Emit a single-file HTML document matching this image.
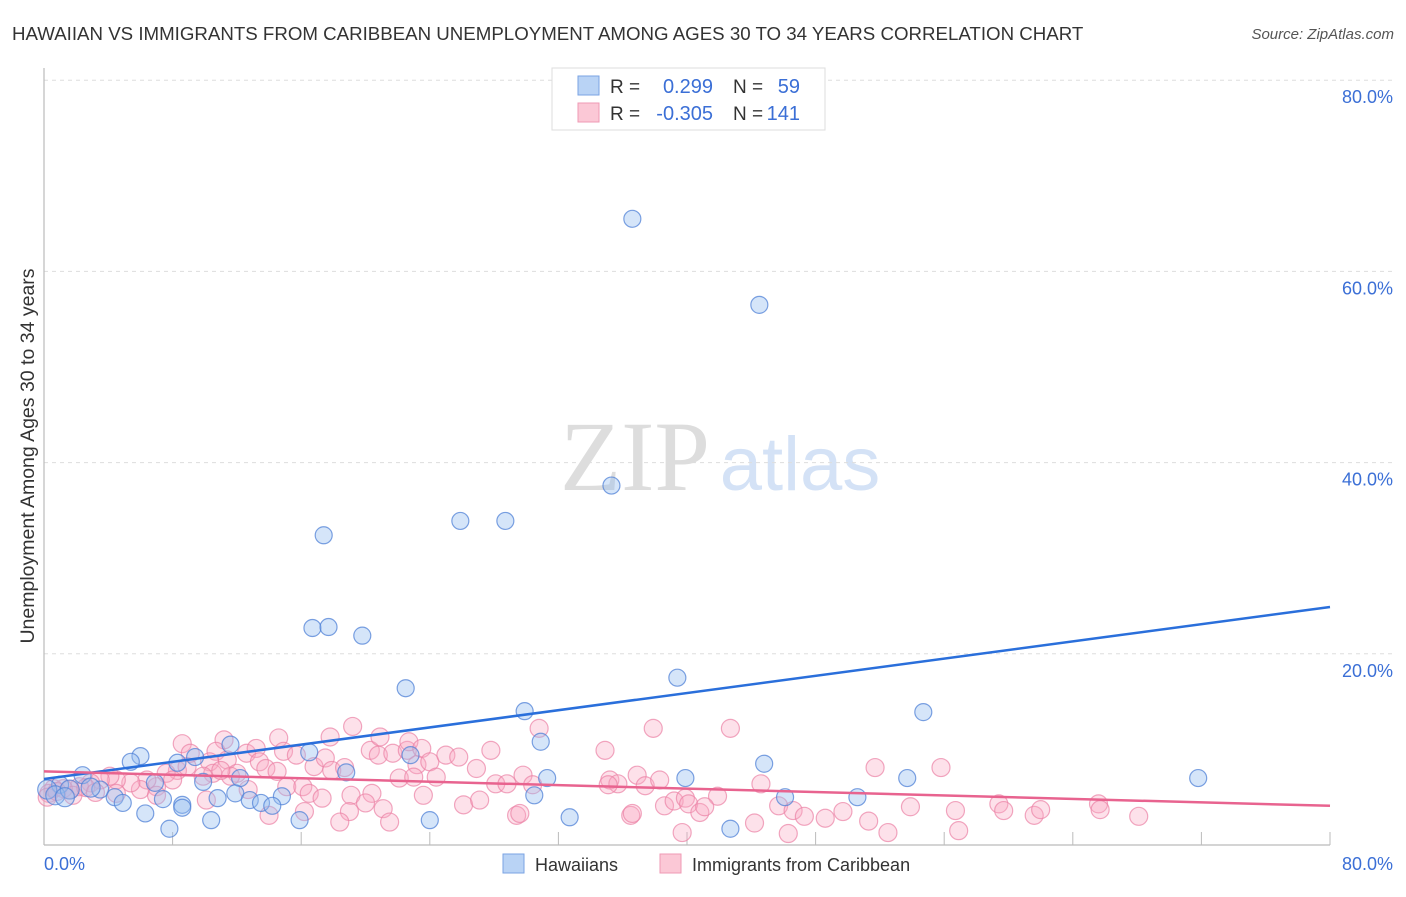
<!DOCTYPE html>
<html><head><meta charset="utf-8"><style>
body{margin:0;background:#fff;font-family:"Liberation Sans",sans-serif;}
svg text{font-family:"Liberation Sans",sans-serif;}
</style></head><body>
<svg id="chart" width="1406" height="892" xmlns="http://www.w3.org/2000/svg">
<text x="12" y="40" font-size="18.7" fill="#333">HAWAIIAN VS IMMIGRANTS FROM CARIBBEAN UNEMPLOYMENT AMONG AGES 30 TO 34 YEARS CORRELATION CHART</text>
<text x="1394" y="39" font-size="15" fill="#555" font-style="italic" text-anchor="end">Source: ZipAtlas.com</text>
<text transform="translate(34,456) rotate(-90)" font-size="19.5" fill="#333" text-anchor="middle">Unemployment Among Ages 30 to 34 years</text>
<g>
<text x="635" y="490" font-size="100" fill="#ddd" style="font-family:'Liberation Serif',serif" text-anchor="middle">ZIP</text>
<text x="800" y="490" font-size="76" fill="#d4e2f6" text-anchor="middle">atlas</text>
</g>
<g id="grid"></g><g id="ticks"></g>
<line x1="44" y1="68" x2="44" y2="845" stroke="#bbb" stroke-width="1.2"/>
<line x1="44" y1="845" x2="1330" y2="845" stroke="#bbb" stroke-width="1.2"/>
<g id="pts"></g><g id="lines"></g>
<text x="44" y="870" font-size="18" fill="#3b6fd6">0.0%</text>
<text x="1393" y="870" font-size="18" fill="#3b6fd6" text-anchor="end">80.0%</text>
<g>
<rect x="552" y="68" width="273" height="62" fill="#fff" stroke="#ddd"/>
<rect x="578" y="76" width="21" height="19" fill="#b9d3f5" stroke="#7aa3e3"/>
<rect x="578" y="103" width="21" height="19" fill="#fbc8d6" stroke="#ef9ab4"/>
<text x="610" y="93" font-size="19" fill="#333">R =</text><text x="713" y="93" font-size="20" fill="#3b6fd6" text-anchor="end">0.299</text>
<text x="733" y="93" font-size="19" fill="#333">N =</text><text x="800" y="93" font-size="20" fill="#3b6fd6" text-anchor="end">59</text>
<text x="610" y="120" font-size="19" fill="#333">R =</text><text x="713" y="120" font-size="20" fill="#3b6fd6" text-anchor="end">-0.305</text>
<text x="733" y="120" font-size="19" fill="#333">N =</text><text x="800" y="120" font-size="20" fill="#3b6fd6" text-anchor="end">141</text>
</g>
<g>
<rect x="503" y="854" width="21" height="19" fill="#b9d3f5" stroke="#7aa3e3"/>
<text x="535" y="871" font-size="18" fill="#333">Hawaiians</text>
<rect x="660" y="854" width="21" height="19" fill="#fbc8d6" stroke="#ef9ab4"/>
<text x="692" y="871" font-size="18" fill="#333">Immigrants from Caribbean</text>
</g>
</svg>
<script>
const yTicks=[20,40,60,80];
const yTickLabels=["20.0%","40.0%","60.0%","80.0%"];
const xTicks=[8,16,24,32,40,48,56,64,72,80];
const hawX=[36.6,44.5,35.3,25.9,28.7,17.4,16.7,17.7,19.8,22.5,39.4,29.9,54.7,30.9,11.6,9.4,6.0,5.4,8.3,16.5,22.8,44.8,18.8,2.4,12.2,9.9,31.3,39.9,53.7,71.8,1.0,6.9,3.5,4.4,4.9,7.4,10.8,11.9,12.8,14.8,13.5,14.2,8.6,8.6,30.5,46.1,50.6,6.3,10.4,15.9,7.8,24.0,32.7,42.7,0.2,0.7,1.6,2.9,1.3];
const hawY=[65.5,56.5,37.6,33.9,33.9,32.4,22.7,22.8,21.9,16.4,17.5,14.0,13.9,10.8,10.5,9.2,9.3,8.7,8.6,9.7,9.4,8.5,7.6,7.3,7.0,6.6,7.0,7.0,7.0,7.0,6.3,6.5,5.8,5.0,4.4,4.8,4.9,5.4,4.7,5.1,4.4,4.1,4.2,3.9,5.2,5.0,5.0,3.3,2.6,2.6,1.7,2.6,2.9,1.7,5.8,5.2,5.8,6.0,5.0];
const carX=[8.6,11.2,10.7,11.4,10.3,12.6,13.2,14.6,14.9,15.7,16.8,17.5,17.8,17.9,18.7,19.2,20.3,20.8,20.9,21.7,22.6,22.7,23.5,23.2,24.0,25.0,25.8,26.9,27.8,29.8,30.8,22.1,23.0,24.4,28.1,28.8,30.4,15.1,16.1,16.5,17.3,19.1,20.4,20.0,21.1,21.5,19.0,18.4,16.2,14.0,23.6,26.1,27.1,29.4,29.6,12.7,12.0,11.6,10.5,11.0,9.9,8.3,7.6,8.9,8.0,7.0,6.4,6.0,5.4,4.5,4.1,3.5,2.9,2.2,1.6,1.2,0.6,0.3,4.5,7.0,10.1,9.1,13.4,13.8,14.5,34.9,37.9,42.7,51.7,35.2,35.7,35.1,36.9,37.4,38.3,44.6,41.9,38.6,39.2,39.9,40.1,40.8,41.1,36.5,36.6,39.7,44.2,45.7,46.6,47.3,46.3,48.6,49.7,51.3,52.5,53.9,56.7,59.4,59.7,61.6,62.0,65.6,65.7,68.1,55.8,56.9,0.2,0.8,1.8,2.6,3.2];
const carY=[10.6,11.0,9.8,8.9,8.7,9.6,10.1,11.2,9.8,9.4,8.2,9.1,11.3,7.8,8.1,12.4,9.9,9.4,11.3,9.6,9.9,10.8,10.1,8.4,8.7,9.4,9.2,8.0,9.9,7.3,12.2,7.0,7.1,7.1,6.4,6.4,6.3,6.1,6.1,5.4,4.9,5.2,5.4,4.4,3.8,2.4,3.5,2.4,3.5,3.1,5.2,4.2,4.7,3.1,3.3,5.8,7.5,7.2,7.5,7.8,7.2,7.8,7.5,8.2,6.8,6.1,6.8,5.8,6.5,6.8,7.2,6.8,6.5,6.1,5.8,5.9,5.9,5.4,5.4,5.2,4.7,9.6,8.7,8.0,7.7,9.9,12.2,12.2,8.1,6.8,6.4,6.3,7.3,6.2,6.8,6.4,5.1,4.1,4.6,4.9,4.3,3.4,4.0,3.1,3.3,1.3,2.3,4.1,3.6,3.0,1.2,2.8,3.5,2.5,1.3,4.0,3.6,4.3,3.6,3.1,3.7,4.3,3.7,3.0,8.1,1.5,5.0,5.6,5.2,6.0,5.5];
const hawLine=[6.9,24.9];
const carLine=[7.7,4.1];
const X=v=>44+v/80*1286, Y=v=>845-v/20*191.2;
const NS="http://www.w3.org/2000/svg";
function mk(t,a,p){const e=document.createElementNS(NS,t);for(const k in a)e.setAttribute(k,a[k]);p.appendChild(e);return e;}
const grid=document.getElementById('grid'),ticks=document.getElementById('ticks'),pts=document.getElementById('pts'),lines=document.getElementById('lines');
yTicks.forEach((t,i)=>{
 const g=mk('line',{x1:44,x2:1394,y1:Y(t),y2:Y(t),stroke:'#ddd','stroke-dasharray':'4,4'},grid);
 
 
 const l=mk('text',{x:1393,y:Y(t)+23,'font-size':18,fill:'#3b6fd6','text-anchor':'end'},grid);
 l.textContent=yTickLabels[i];
 
 
});
xTicks.forEach(t=>{
 const k=mk('line',{x1:X(t),x2:X(t),y1:832,y2:845,stroke:'#bbb'},ticks);
 
 
});
carX.forEach((v,i)=>{
 const c=mk('circle',{cx:X(v),cy:Y(carY[i]),r:9,fill:'rgba(248,170,195,0.35)',stroke:'rgba(235,130,165,0.7)','stroke-width':1.2},pts);
 
 
});
hawX.forEach((v,i)=>{
 const c=mk('circle',{cx:X(v),cy:Y(hawY[i]),r:i>=54?9.5:8.5,fill:'rgba(150,190,240,0.4)',stroke:'rgba(80,130,215,0.75)','stroke-width':1.2},pts);
 
 
});
const hl=mk('line',{x1:X(0),y1:Y(hawLine[0]),x2:X(80),y2:Y(hawLine[1]),stroke:'#2a6fdb','stroke-width':2.5},lines);


const cl=mk('line',{x1:X(0),y1:Y(carLine[0]),x2:X(80),y2:Y(carLine[1]),stroke:'#e8638f','stroke-width':2.5},lines);


</script>
</body></html>
